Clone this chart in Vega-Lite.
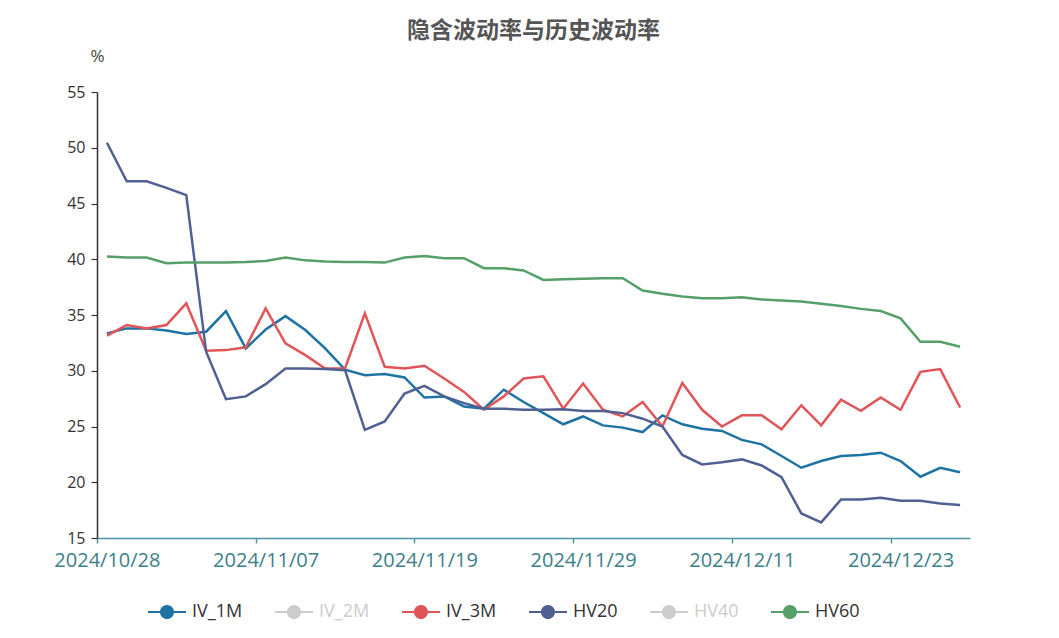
{
  "$schema": "https://vega.github.io/schema/vega-lite/v6.json",
  "width": 873,
  "height": 446,
  "autosize": {"type": "none"},
  "padding": {"left": 97, "top": 92, "right": 89, "bottom": 100},
  "background": "white",
  "config": {"view": {"stroke": null}},
  "title": {"text": "隐含波动率与历史波动率", "font": "Noto Sans CJK SC", "fontSize": 23, "fontWeight": "bold", "color": "#555555", "anchor": "middle", "offset": 4},
  "data": {"values": [
    {"d": "2024/10/28", "IV_1M": 33.35, "IV_3M": 33.15, "HV20": 50.45, "HV60": 40.25},
    {"d": "2024/10/29", "IV_1M": 33.8, "IV_3M": 34.1, "HV20": 47.0, "HV60": 40.15},
    {"d": "2024/10/30", "IV_1M": 33.8, "IV_3M": 33.8, "HV20": 47.0, "HV60": 40.15},
    {"d": "2024/10/31", "IV_1M": 33.6, "IV_3M": 34.1, "HV20": 46.4, "HV60": 39.65},
    {"d": "2024/11/01", "IV_1M": 33.3, "IV_3M": 36.05, "HV20": 45.75, "HV60": 39.7},
    {"d": "2024/11/04", "IV_1M": 33.5, "IV_3M": 31.8, "HV20": 31.7, "HV60": 39.7},
    {"d": "2024/11/05", "IV_1M": 35.35, "IV_3M": 31.85, "HV20": 27.45, "HV60": 39.7},
    {"d": "2024/11/06", "IV_1M": 32.0, "IV_3M": 32.1, "HV20": 27.7, "HV60": 39.75},
    {"d": "2024/11/07", "IV_1M": 33.7, "IV_3M": 35.6, "HV20": 28.8, "HV60": 39.85},
    {"d": "2024/11/08", "IV_1M": 34.9, "IV_3M": 32.45, "HV20": 30.2, "HV60": 40.15},
    {"d": "2024/11/11", "IV_1M": 33.65, "IV_3M": 31.4, "HV20": 30.2, "HV60": 39.9},
    {"d": "2024/11/12", "IV_1M": 32.0, "IV_3M": 30.2, "HV20": 30.15, "HV60": 39.8},
    {"d": "2024/11/13", "IV_1M": 30.1, "IV_3M": 30.2, "HV20": 30.05, "HV60": 39.75},
    {"d": "2024/11/14", "IV_1M": 29.6, "IV_3M": 35.15, "HV20": 24.7, "HV60": 39.75},
    {"d": "2024/11/15", "IV_1M": 29.7, "IV_3M": 30.35, "HV20": 25.45, "HV60": 39.7},
    {"d": "2024/11/18", "IV_1M": 29.4, "IV_3M": 30.2, "HV20": 27.95, "HV60": 40.15},
    {"d": "2024/11/19", "IV_1M": 27.6, "IV_3M": 30.45, "HV20": 28.65, "HV60": 40.3},
    {"d": "2024/11/20", "IV_1M": 27.7, "IV_3M": 29.3, "HV20": 27.7, "HV60": 40.1},
    {"d": "2024/11/21", "IV_1M": 26.8, "IV_3M": 28.1, "HV20": 27.1, "HV60": 40.1},
    {"d": "2024/11/22", "IV_1M": 26.6, "IV_3M": 26.5, "HV20": 26.6, "HV60": 39.2},
    {"d": "2024/11/25", "IV_1M": 28.3, "IV_3M": 27.7, "HV20": 26.6, "HV60": 39.2},
    {"d": "2024/11/26", "IV_1M": 27.2, "IV_3M": 29.3, "HV20": 26.5, "HV60": 39.0},
    {"d": "2024/11/27", "IV_1M": 26.2, "IV_3M": 29.5, "HV20": 26.5, "HV60": 38.15},
    {"d": "2024/11/28", "IV_1M": 25.2, "IV_3M": 26.6, "HV20": 26.55, "HV60": 38.2},
    {"d": "2024/11/29", "IV_1M": 25.9, "IV_3M": 28.85, "HV20": 26.4, "HV60": 38.25},
    {"d": "2024/12/02", "IV_1M": 25.1, "IV_3M": 26.5, "HV20": 26.4, "HV60": 38.3},
    {"d": "2024/12/03", "IV_1M": 24.9, "IV_3M": 25.9, "HV20": 26.2, "HV60": 38.3},
    {"d": "2024/12/04", "IV_1M": 24.5, "IV_3M": 27.2, "HV20": 25.7, "HV60": 37.2},
    {"d": "2024/12/05", "IV_1M": 26.0, "IV_3M": 25.0, "HV20": 25.0, "HV60": 36.9},
    {"d": "2024/12/06", "IV_1M": 25.2, "IV_3M": 28.9, "HV20": 22.45, "HV60": 36.65},
    {"d": "2024/12/09", "IV_1M": 24.8, "IV_3M": 26.5, "HV20": 21.6, "HV60": 36.5},
    {"d": "2024/12/10", "IV_1M": 24.6, "IV_3M": 25.0, "HV20": 21.8, "HV60": 36.5},
    {"d": "2024/12/11", "IV_1M": 23.8, "IV_3M": 26.0, "HV20": 22.05, "HV60": 36.6},
    {"d": "2024/12/12", "IV_1M": 23.4, "IV_3M": 26.0, "HV20": 21.5, "HV60": 36.4},
    {"d": "2024/12/13", "IV_1M": 22.35, "IV_3M": 24.75, "HV20": 20.45, "HV60": 36.3},
    {"d": "2024/12/16", "IV_1M": 21.3, "IV_3M": 26.9, "HV20": 17.2, "HV60": 36.2},
    {"d": "2024/12/17", "IV_1M": 21.9, "IV_3M": 25.1, "HV20": 16.4, "HV60": 36.0},
    {"d": "2024/12/18", "IV_1M": 22.35, "IV_3M": 27.4, "HV20": 18.45, "HV60": 35.8},
    {"d": "2024/12/19", "IV_1M": 22.45, "IV_3M": 26.4, "HV20": 18.45, "HV60": 35.55},
    {"d": "2024/12/20", "IV_1M": 22.65, "IV_3M": 27.6, "HV20": 18.6, "HV60": 35.35},
    {"d": "2024/12/23", "IV_1M": 21.9, "IV_3M": 26.5, "HV20": 18.35, "HV60": 34.7},
    {"d": "2024/12/24", "IV_1M": 20.5, "IV_3M": 29.9, "HV20": 18.35, "HV60": 32.6},
    {"d": "2024/12/25", "IV_1M": 21.3, "IV_3M": 30.15, "HV20": 18.1, "HV60": 32.6},
    {"d": "2024/12/26", "IV_1M": 20.9, "IV_3M": 26.7, "HV20": 17.95, "HV60": 32.15}
  ]},
  "transform": [{"fold": ["IV_1M", "IV_3M", "HV20", "HV60"], "as": ["series", "value"]}],
  "mark": {"type": "line", "strokeWidth": 2.5},
  "encoding": {
    "x": {
      "field": "d", "type": "ordinal", "sort": null,
      "scale": {"type": "point", "padding": 0.5},
      "axis": {
        "title": null,
        "values": ["2024/10/28", "2024/11/07", "2024/11/19", "2024/11/29", "2024/12/11", "2024/12/23"],
        "labelAngle": 0,
        "labelFont": "Open Sans", "labelFontSize": 20, "labelColor": "#3d7f8a",
        "domainColor": "#4a97a3", "domainWidth": 1.5, "tickColor": "#4a97a3", "tickSize": 5, "tickWidth": 1.5,
        "tickOffset": -9.92, "labelOffset": 9.92, "labelPadding": 7,
        "grid": false, "labelOverlap": false
      }
    },
    "y": {
      "field": "value", "type": "quantitative",
      "scale": {"domain": [15, 55], "nice": false, "zero": false},
      "axis": {
        "values": [15, 20, 25, 30, 35, 40, 45, 50, 55],
        "grid": false,
        "title": "%", "titleAngle": 0, "titleX": 0, "titleY": -36, "titleAlign": "center", "titleBaseline": "middle",
        "titleFont": "Open Sans", "titleFontSize": 17, "titleFontWeight": "normal", "titleColor": "#444444",
        "labelFont": "Open Sans", "labelFontSize": 16, "labelColor": "#333333", "labelPadding": 6,
        "domainColor": "#333333", "domainWidth": 1.5, "tickColor": "#333333", "tickSize": 6, "tickWidth": 1.2
      }
    },
    "color": {
      "field": "series", "type": "nominal",
      "scale": {"domain": ["IV_1M", "IV_2M", "IV_3M", "HV20", "HV40", "HV60"], "range": ["#1e73a3", "#cccccc", "#e05558", "#516092", "#cccccc", "#55a068"]},
      "legend": {
        "orient": "none", "legendX": 51, "legendY": 501, "direction": "horizontal", "title": null,
        "symbolType": "M-1,-0.055L1,-0.055L1,0.055L-1,0.055Z M0.37,0A0.37,0.37 0 1,1 -0.37,0A0.37,0.37 0 1,1 0.37,0Z",
        "symbolSize": 1444, "symbolStrokeWidth": 0,
        "labelFont": "Open Sans", "labelFontSize": 18, "labelOffset": 6, "columnPadding": 32,
        "encode": {
          "symbols": {"update": {"fill": {"scale": "color", "field": "value"}, "opacity": {"value": 1}}},
          "labels": {"update": {"fill": {"signal": "datum.value === 'IV_2M' || datum.value === 'HV40' ? '#cccccc' : '#333333'"}}}
        }
      }
    }
  }
}
